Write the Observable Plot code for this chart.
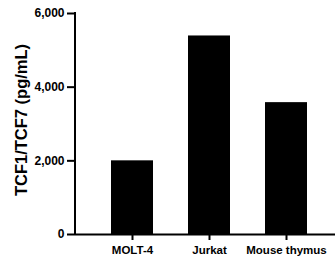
<!DOCTYPE html>
<html>
<head>
<meta charset="utf-8">
<script src="https://cdn.jsdelivr.net/npm/d3@7"></script>
<script src="https://cdn.jsdelivr.net/npm/@observablehq/plot@0.6"></script>
<style>
  body { margin: 0; background: #fff; }
  svg { font-family: "Liberation Sans", Arial, sans-serif; }
</style>
</head>
<body>
<div id="chart"></div>
<script>
const categories = ["MOLT-4", "Jurkat", "Mouse thymus"];
const values = [2000, 5390, 3580];
const yTicks = [0, 2000, 4000, 6000];
const yLabel = "TCF1/TCF7 (pg/mL)";

const data = categories.map((c, i) => ({category: c, value: values[i]}));

const yAxisLine = (index, scales, values, dims) => {
  const ns = "http://www.w3.org/2000/svg";
  const line = document.createElementNS(ns, "line");
  const x = dims.marginLeft;
  line.setAttribute("x1", x);
  line.setAttribute("x2", x);
  line.setAttribute("y1", scales.y(6000) - 1);
  line.setAttribute("y2", scales.y(0) + 1);
  line.setAttribute("stroke", "black");
  line.setAttribute("stroke-width", 2);
  return line;
};

const chart = Plot.plot({
  width: 335,
  height: 264,
  marginLeft: 75,
  marginRight: 0,
  marginTop: 13,
  marginBottom: 30,
  style: {fontFamily: "'Liberation Sans', Arial, sans-serif", fontWeight: "bold", color: "black", background: "white"},
  x: {domain: categories, paddingInner: 0.45, paddingOuter: 0.4, align: 0.56, label: null},
  y: {domain: [0, 6000], label: null},
  marks: [
    Plot.barY(data, {x: "category", y: "value", fill: "black"}),
    Plot.axisY({ticks: yTicks, tickFormat: d3.format(","), tickSize: 8, tickPadding: 3, strokeWidth: 2, fontSize: 12, fontWeight: "bold", label: null}),
    Plot.text([yLabel], {frameAnchor: "left", textAnchor: "middle", dx: -54, dy: -4, rotate: -90, fontSize: 16.5, fontWeight: "bold", fill: "black"}),
    Plot.axisX({tickSize: 6, tickPadding: 5, strokeWidth: 2, fontSize: 11.5, fontWeight: "bold", label: null}),
    Plot.ruleY([0], {strokeWidth: 2}),
    yAxisLine
  ]
});
document.getElementById("chart").appendChild(chart);
</script>
</body>
</html>
